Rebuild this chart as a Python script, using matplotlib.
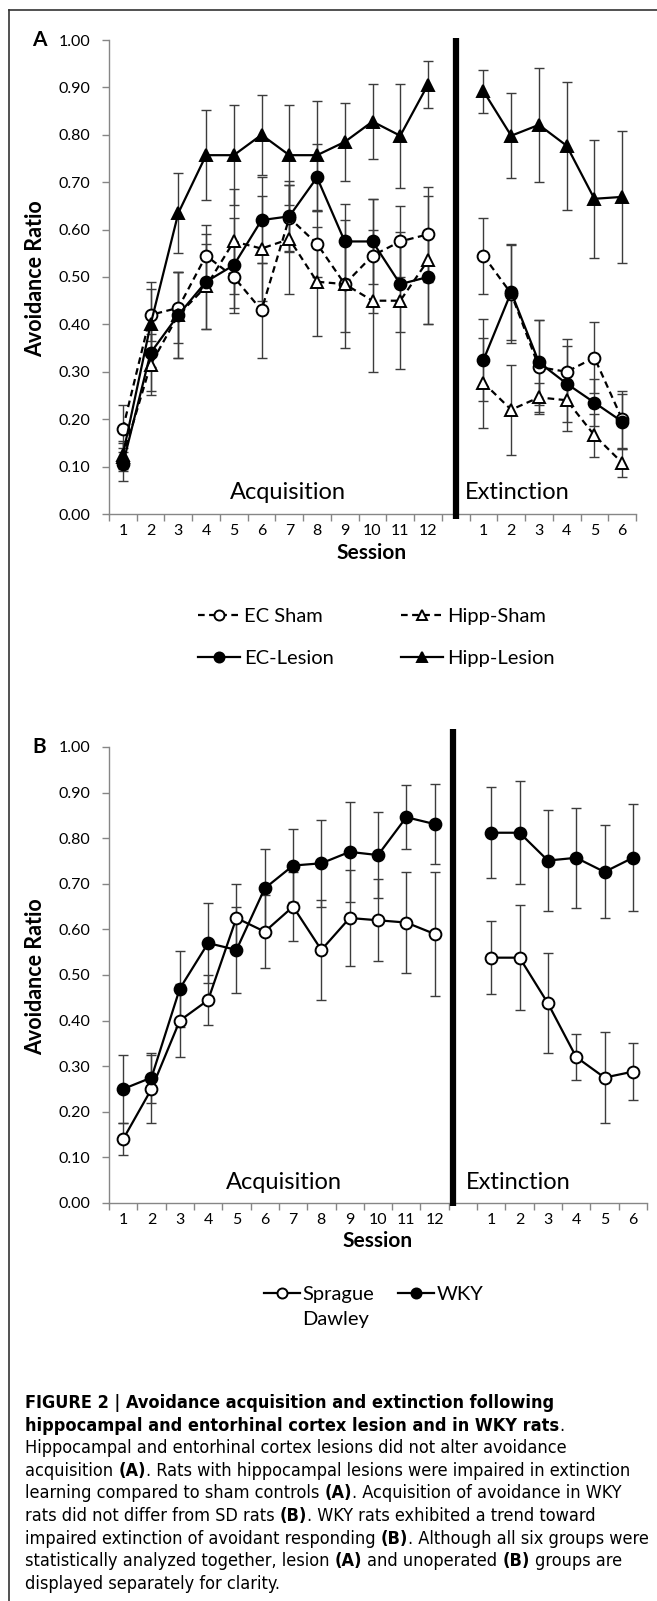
import matplotlib
matplotlib.use('Agg')
import matplotlib.pyplot as plt
from matplotlib import font_manager
from matplotlib.font_manager import FontProperties
from matplotlib.lines import Line2D
import numpy as np
import os

names = {f.name for f in font_manager.fontManager.ttflist}
chart_font = 'Lato' if 'Lato' in names else 'DejaVu Sans'
plt.rcParams['font.family'] = [chart_font, 'DejaVu Sans']

# look for a narrow/condensed face for the caption
files = {os.path.basename(f.fname): f.fname for f in font_manager.fontManager.ttflist}


def pick(cands):
    for c in cands:
        if c in files:
            return FontProperties(fname=files[c])
    return None


cap_reg = pick(['NotoSans-CondensedLight.ttf', 'LiberationSansNarrow-Regular.ttf',
                'NotoSans-Condensed.ttf', 'DejaVuSansCondensed.ttf'])
cap_bold = pick(['NotoSans-CondensedSemiBold.ttf', 'LiberationSansNarrow-Bold.ttf',
                 'NotoSans-CondensedBold.ttf', 'DejaVuSansCondensed-Bold.ttf'])
if cap_reg is None or cap_bold is None:
    cap_reg = FontProperties(family='Liberation Sans')
    cap_bold = FontProperties(family='Liberation Sans', weight='bold')

# ---- data ----
acq_sessions = list(range(1, 13))
ext_sessions = list(range(1, 7))

# panel A
ec_sham_acq = [0.18, 0.42, 0.435, 0.545, 0.50, 0.43, 0.625, 0.57, 0.485, 0.545, 0.575, 0.59]
ec_sham_acq_err = [0.05, 0.055, 0.075, 0.065, 0.065, 0.10, 0.07, 0.07, 0.10, 0.12, 0.075, 0.10]
ec_sham_ext = [0.545, 0.465, 0.31, 0.30, 0.33, 0.20]
ec_sham_ext_err = [0.08, 0.105, 0.10, 0.07, 0.075, 0.06]

hipp_sham_acq = [0.12, 0.315, 0.42, 0.48, 0.575, 0.56, 0.58, 0.49, 0.485, 0.45, 0.45, 0.535]
hipp_sham_acq_err = [0.03, 0.065, 0.09, 0.09, 0.11, 0.11, 0.115, 0.115, 0.135, 0.15, 0.145, 0.135]
hipp_sham_ext = [0.277, 0.22, 0.246, 0.24, 0.166, 0.108]
hipp_sham_ext_err = [0.095, 0.095, 0.03, 0.065, 0.045, 0.03]

ec_lesion_acq = [0.105, 0.34, 0.42, 0.49, 0.525, 0.62, 0.628, 0.71, 0.575, 0.575, 0.485, 0.50]
ec_lesion_acq_err = [0.035, 0.08, 0.09, 0.10, 0.10, 0.09, 0.075, 0.07, 0.08, 0.09, 0.10, 0.10]
ec_lesion_ext = [0.325, 0.468, 0.32, 0.275, 0.235, 0.195]
ec_lesion_ext_err = [0.087, 0.10, 0.09, 0.08, 0.05, 0.058]

hipp_lesion_acq = [0.125, 0.40, 0.635, 0.757, 0.757, 0.80, 0.757, 0.757, 0.785, 0.828, 0.798, 0.906]
hipp_lesion_acq_err = [0.03, 0.09, 0.085, 0.095, 0.105, 0.085, 0.105, 0.115, 0.083, 0.08, 0.11, 0.05]
hipp_lesion_ext = [0.892, 0.798, 0.821, 0.777, 0.665, 0.669]
hipp_lesion_ext_err = [0.045, 0.09, 0.12, 0.135, 0.125, 0.14]

# panel B
sd_acq = [0.14, 0.25, 0.40, 0.445, 0.625, 0.595, 0.65, 0.555, 0.625, 0.62, 0.615, 0.59]
sd_acq_err = [0.035, 0.075, 0.08, 0.055, 0.075, 0.08, 0.075, 0.11, 0.105, 0.09, 0.11, 0.135]
sd_ext = [0.538, 0.538, 0.438, 0.32, 0.275, 0.288]
sd_ext_err = [0.08, 0.115, 0.11, 0.05, 0.10, 0.062]

wky_acq = [0.25, 0.275, 0.47, 0.57, 0.555, 0.69, 0.74, 0.745, 0.77, 0.763, 0.846, 0.831]
wky_acq_err = [0.075, 0.055, 0.083, 0.087, 0.095, 0.087, 0.08, 0.095, 0.11, 0.095, 0.07, 0.087]
wky_ext = [0.812, 0.812, 0.751, 0.757, 0.726, 0.757]
wky_ext_err = [0.10, 0.113, 0.11, 0.11, 0.102, 0.117]

caption_lines = [
    [("FIGURE 2 | Avoidance acquisition and extinction following", True)],
    [("hippocampal and entorhinal cortex lesion and in WKY rats", True), (".", False)],
    [("Hippocampal and entorhinal cortex lesions did not alter avoidance", False)],
    [("acquisition ", False), ("(A)", True), (". Rats with hippocampal lesions were impaired in extinction", False)],
    [("learning compared to sham controls ", False), ("(A)", True), (". Acquisition of avoidance in WKY", False)],
    [("rats did not differ from SD rats ", False), ("(B)", True), (". WKY rats exhibited a trend toward", False)],
    [("impaired extinction of avoidant responding ", False), ("(B)", True), (". Although all six groups were", False)],
    [("statistically analyzed together, lesion ", False), ("(A)", True), (" and unoperated ", False),
     ("(B)", True), (" groups are", False)],
    [("displayed separately for clarity.", False)],
]

# categories: 12 acquisition, one gap, 6 extinction
acq_x = np.arange(1, 13)
ext_x = np.arange(14, 20)

W, H = 657, 1601
fig = plt.figure(figsize=(W / 100, H / 100), dpi=100)


def px_axes(l, r, t, b):
    return fig.add_axes([l / W, 1 - b / H, (r - l) / W, (b - t) / H])


def style_axes(ax):
    ax.set_xlim(0.5, 19.5)
    ax.set_ylim(0, 1.0)
    for s in ['top', 'right']:
        ax.spines[s].set_visible(False)
    for s in ['left', 'bottom']:
        ax.spines[s].set_color('#868686')
        ax.spines[s].set_linewidth(1)
    yt = np.round(np.arange(0, 1.01, 0.1), 2)
    ax.set_yticks(yt)
    ax.set_yticklabels(['%.2f' % v for v in yt], fontsize=11.5)
    ax.set_xticks(list(acq_x) + list(ext_x))
    ax.set_xticklabels([str(s) for s in acq_sessions] + [str(s) for s in ext_sessions], fontsize=11.5)
    ax.set_xticks(np.arange(0.5, 19.6, 1), minor=True)
    ax.tick_params(axis='x', which='major', length=0, pad=7)
    ax.tick_params(axis='x', which='minor', length=5, width=1, color='#868686', direction='out')
    ax.tick_params(axis='y', length=5, width=1, color='#868686', direction='out', pad=8.5)


def draw_series(ax, x, y, err, marker, filled, dashed, ms, label=None):
    ax.errorbar(x, y, yerr=err, fmt='none', ecolor='#3c3c3c', elinewidth=1,
                capsize=3.5, capthick=1, zorder=2)
    line, = ax.plot(x, y, color='black', lw=1.6, ls=(0, (3, 2)) if dashed else '-',
                    marker=marker, ms=ms, mfc='black' if filled else 'white',
                    mec='black', mew=1.4, zorder=3, label=label)
    return line


# ---- panel A ----
axA = px_axes(109, 636, 40, 514)
style_axes(axA)
specA = [
    ('EC Sham', ec_sham_acq, ec_sham_acq_err, ec_sham_ext, ec_sham_ext_err, 'o', False, True, 8.5),
    ('Hipp-Sham', hipp_sham_acq, hipp_sham_acq_err, hipp_sham_ext, hipp_sham_ext_err, '^', False, True, 9),
    ('EC-Lesion', ec_lesion_acq, ec_lesion_acq_err, ec_lesion_ext, ec_lesion_ext_err, 'o', True, False, 8.5),
    ('Hipp-Lesion', hipp_lesion_acq, hipp_lesion_acq_err, hipp_lesion_ext, hipp_lesion_ext_err, '^', True, False, 9),
]
handlesA = {}
for name, ya, ea, ye, ee, mk, fill, dash, ms in specA:
    handlesA[name] = draw_series(axA, acq_x, ya, ea, mk, fill, dash, ms, name)
    draw_series(axA, ext_x, ye, ee, mk, fill, dash, ms)
axA.plot([13, 13], [-0.01, 1.005], color='black', lw=4.5, clip_on=False,
         solid_capstyle='butt', zorder=5)
axA.text(0.34, 0.045, 'Acquisition', transform=axA.transAxes, ha='center', va='center', fontsize=17)
axA.text(0.774, 0.045, 'Extinction', transform=axA.transAxes, ha='center', va='center', fontsize=17)
order = ['EC Sham', 'EC-Lesion', 'Hipp-Sham', 'Hipp-Lesion']
axA.legend([handlesA[k] for k in order], order, loc='upper left',
           bbox_to_anchor=(198 / W, 1 - 608 / H), bbox_transform=fig.transFigure,
           ncol=2, frameon=False, fontsize=14.5, handlelength=2.1, handletextpad=0.2,
           columnspacing=3.3, labelspacing=1.25, borderpad=0, borderaxespad=0, markerscale=0.85)

fig.text(39 / W, 1 - 40 / H, 'A', ha='center', va='center', fontsize=15, fontweight='bold')
fig.text(36 / W, 1 - 279 / H, 'Avoidance Ratio', rotation=90, ha='center', va='center',
         fontsize=15.5, fontweight='bold')
fig.text(372 / W, 1 - 553 / H, 'Session', ha='center', va='center', fontsize=15, fontweight='bold')

# ---- panel B ----
axB = px_axes(109, 647, 747, 1203)
style_axes(axB)
hsd = draw_series(axB, acq_x, sd_acq, sd_acq_err, 'o', False, False, 8.5, 'Sprague')
draw_series(axB, ext_x, sd_ext, sd_ext_err, 'o', False, False, 8.5)
hwky = draw_series(axB, acq_x, wky_acq, wky_acq_err, 'o', True, False, 8.5, 'WKY')
draw_series(axB, ext_x, wky_ext, wky_ext_err, 'o', True, False, 8.5)
axB.plot([12.64, 12.64], [-0.007, 1.04], color='black', lw=4.5, clip_on=False,
         solid_capstyle='butt', zorder=5)
axB.text(0.325, 0.046, 'Acquisition', transform=axB.transAxes, ha='center', va='center', fontsize=17)
axB.text(0.76, 0.046, 'Extinction', transform=axB.transAxes, ha='center', va='center', fontsize=17)
legB = axB.legend([hsd, hwky], ['Sprague', 'WKY'], loc='upper left',
                  bbox_to_anchor=(264 / W, 1 - 1286 / H), bbox_transform=fig.transFigure,
                  ncol=2, frameon=False, fontsize=14.5, handlelength=1.8, handletextpad=0.1,
                  columnspacing=1.2, borderpad=0, borderaxespad=0, markerscale=0.85)

fig.text(39 / W, 1 - 747 / H, 'B', ha='center', va='center', fontsize=15, fontweight='bold')
fig.text(36 / W, 1 - 977 / H, 'Avoidance Ratio', rotation=90, ha='center', va='center',
         fontsize=15.5, fontweight='bold')
fig.text(378 / W, 1 - 1241 / H, 'Session', ha='center', va='center', fontsize=15, fontweight='bold')

# frame
fig.add_artist(Line2D([9 / W, 1], [1 - 10 / H, 1 - 10 / H], transform=fig.transFigure,
                      color='#333333', lw=1.2))
fig.add_artist(Line2D([9 / W, 9 / W], [0, 1 - 10 / H], transform=fig.transFigure,
                      color='#333333', lw=1.2))

fig.canvas.draw()
r = fig.canvas.get_renderer()

# second line of the Sprague Dawley label
sp_ext = legB.get_texts()[0].get_window_extent(r)
fig.text(sp_ext.x0 / W, (sp_ext.y0 - 25) / H, 'Dawley', fontsize=14.5, ha='left', va='bottom')


# ---- caption ----
def text_w(s, bold, size):
    fp = (cap_bold if bold else cap_reg).copy()
    fp.set_size(size)
    t = fig.text(0, 0, s, fontproperties=fp)
    w = t.get_window_extent(r).width
    t.remove()
    return w


def line_w(line, size):
    sp = text_w('a a', False, size) - text_w('aa', False, size)
    total = 0
    for s, b in line:
        core = s.strip()
        total += (len(s) - len(core)) * sp + (text_w(core, b, size) if core else 0)
    return total


cap_size = 10 * 622 / line_w(caption_lines[6], 10)
space = text_w('a a', False, cap_size) - text_w('aa', False, cap_size)
y0 = 1408
for i, line in enumerate(caption_lines):
    x = 25
    base = y0 + i * 22.6
    for s, b in line:
        core = s.strip()
        x += (len(s) - len(s.lstrip())) * space
        if core:
            fp = (cap_bold if b else cap_reg).copy()
            fp.set_size(cap_size)
            fig.text(x / W, 1 - base / H, core, fontproperties=fp, ha='left', va='baseline')
            x += text_w(core, b, cap_size)
        x += (len(s) - len(s.rstrip())) * space

fig.savefig('out.png', dpi=100)
